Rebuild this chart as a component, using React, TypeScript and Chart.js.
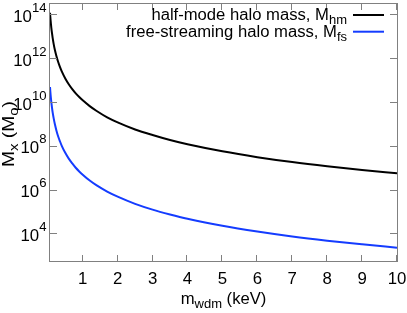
import React, { useEffect, useRef } from 'react';
import { Chart, registerables } from 'chart.js';

Chart.register(...registerables);

// WDM particle mass (keV)
const massKeV = [0.063, 0.07, 0.08, 0.09, 0.1, 0.12, 0.14, 0.17, 0.2, 0.25, 0.3, 0.35, 0.4, 0.5, 0.6, 0.7, 0.8, 0.9, 1, 1.2, 1.4, 1.7, 2, 2.5, 3, 3.5, 4, 5, 6, 7, 8, 9, 10];
// half-mode halo mass (Msun)
const halfModeMass = [1.18e14, 8.3e13, 5.3e13, 3.6e13, 2.5e13, 1.38e13, 8.3e12, 4.3e12, 2.5e12, 1.2e12, 6.5e11, 3.9e11, 2.5e11, 1.19e11, 6.5e10, 3.9e10, 2.5e10, 1.69e10, 1.19e10, 6.5e9, 3.9e9, 2.0e9, 1.18e9, 5.6e8, 3.1e8, 1.83e8, 1.17e8, 5.6e7, 3.05e7, 1.82e7, 1.17e7, 7.9e6, 5.6e6];
// free-streaming halo mass (Msun)
const freeStreamingMass = [4.8e10, 3.4e10, 2.15e10, 1.46e10, 1.02e10, 5.6e9, 3.3e9, 1.75e9, 1.02e9, 4.8e8, 2.6e8, 1.58e8, 1.0e8, 4.8e7, 2.6e7, 1.57e7, 1.0e7, 6.8e6, 4.8e6, 2.6e6, 1.56e6, 8.2e5, 4.8e5, 2.26e5, 1.23e5, 7.4e4, 4.7e4, 2.25e4, 1.23e4, 7.3e3, 4.7e3, 3.2e3, 2.24e3];

const xTickValues = [1, 2, 3, 4, 5, 6, 7, 8, 9, 10];
const yTickExponents = [4, 6, 8, 10, 12, 14];
const xMin = 0.063;
const xMax = 10;
const yMin = 500;
const yMax = 3.3e14;

const FONT = '"Liberation Sans", Arial, Helvetica, sans-serif';
const FS = 16;
const SMALL = 12.5;
const BLUE = 'rgb(20, 60, 255)';
const GREY = 'rgb(128,128,128)';

type Part = { t: string; k?: 'sub' | 'sup' };

function partWidth(ctx: CanvasRenderingContext2D, p: Part) {
  ctx.font = `${p.k ? SMALL : FS}px ${FONT}`;
  return ctx.measureText(p.t).width;
}

function drawParts(
  ctx: CanvasRenderingContext2D,
  parts: Part[],
  x: number,
  y: number,
  align: 'left' | 'right' | 'center',
  sx = 1
) {
  const w = parts.reduce((s, p) => s + partWidth(ctx, p), 0) * sx;
  const startX = align === 'right' ? x - w : align === 'center' ? x - w / 2 : x;
  ctx.save();
  ctx.translate(startX, y);
  ctx.scale(sx, 1);
  ctx.textBaseline = 'alphabetic';
  ctx.textAlign = 'left';
  let cx = 0;
  for (const p of parts) {
    ctx.font = `${p.k ? SMALL : FS}px ${FONT}`;
    const dy = p.k === 'sub' ? 4 : p.k === 'sup' ? -10 : 0;
    ctx.fillText(p.t, cx, dy);
    cx += ctx.measureText(p.t).width;
  }
  ctx.restore();
}

const decorPlugin = {
  id: 'decor',
  afterDraw(chart: any) {
    const ctx: CanvasRenderingContext2D = chart.ctx;
    const { left, right, top, bottom } = chart.chartArea;
    const xs = chart.scales.x;
    const ys = chart.scales.y;
    ctx.save();
    // border
    ctx.strokeStyle = GREY;
    ctx.lineWidth = 1;
    ctx.strokeRect(left - 0.5, top + 0.5, right - left + 1, bottom - top - 1);
    // ticks
    ctx.beginPath();
    const tl = 7;
    for (const v of xTickValues) {
      const px = Math.round(xs.getPixelForValue(v)) - 0.5;
      ctx.moveTo(px, bottom);
      ctx.lineTo(px, bottom - tl);
      ctx.moveTo(px, top);
      ctx.lineTo(px, top + tl);
    }
    for (const e of yTickExponents) {
      const py = Math.round(ys.getPixelForValue(Math.pow(10, e))) + 0.5;
      ctx.moveTo(left, py);
      ctx.lineTo(left + tl, py);
      ctx.moveTo(right, py);
      ctx.lineTo(right - tl, py);
    }
    ctx.stroke();

    ctx.fillStyle = '#000';
    // x tick labels
    for (const v of xTickValues) {
      drawParts(ctx, [{ t: String(v) }], xs.getPixelForValue(v), 284, 'center', 1.05);
    }
    // y tick labels
    for (const e of yTickExponents) {
      const py = ys.getPixelForValue(Math.pow(10, e));
      drawParts(ctx, [{ t: '10' }, { t: String(e), k: 'sup' }], 46.5, py + 7.5, 'right', 1.05);
    }
    // x title
    drawParts(ctx, [{ t: 'm' }, { t: 'wdm', k: 'sub' }, { t: ' (keV)' }], (left + right) / 2, 304, 'center', 1.04);
    // y title
    ctx.save();
    ctx.translate(14, 134);
    ctx.rotate(-Math.PI / 2);
    drawParts(ctx, [{ t: 'M' }, { t: 'x', k: 'sub' }, { t: ' (M' }, { t: 'o', k: 'sub' }, { t: ')' }], 0, 0, 'center', 1.2);
    ctx.restore();
    // legend
    const entries: { parts: Part[]; color: string; y: number }[] = [
      { parts: [{ t: 'half-mode halo mass, M' }, { t: 'hm', k: 'sub' }], color: '#000', y: 20 },
      { parts: [{ t: 'free-streaming halo mass, M' }, { t: 'fs', k: 'sub' }], color: BLUE, y: 36.7 },
    ];
    for (const en of entries) {
      ctx.fillStyle = '#000';
      drawParts(ctx, en.parts, 347, en.y, 'right', 1.04);
      ctx.strokeStyle = en.color;
      ctx.lineWidth = 2;
      ctx.beginPath();
      ctx.moveTo(353, en.y - 5);
      ctx.lineTo(384, en.y - 5);
      ctx.stroke();
    }
    ctx.restore();
  },
};

export default function App() {
  const ref = useRef<HTMLCanvasElement>(null);
  useEffect(() => {
    document.body.style.margin = '0';
    const canvas = ref.current!;
    const chart = new Chart(canvas, {
      type: 'line',
      data: {
        datasets: [
          {
            label: 'half-mode halo mass',
            data: massKeV.map((m, i) => ({ x: m, y: halfModeMass[i] })),
            borderColor: '#000',
            borderWidth: 2,
            pointRadius: 0,
            cubicInterpolationMode: 'monotone',
          },
          {
            label: 'free-streaming halo mass',
            data: massKeV.map((m, i) => ({ x: m, y: freeStreamingMass[i] })),
            borderColor: BLUE,
            borderWidth: 2,
            pointRadius: 0,
            cubicInterpolationMode: 'monotone',
          },
        ],
      },
      options: {
        responsive: false,
        animation: false,
        devicePixelRatio: 1,
        layout: { padding: { left: 50, right: 10, top: 3, bottom: 51 } },
        plugins: { legend: { display: false }, tooltip: { enabled: false } },
        scales: {
          x: { type: 'linear', min: xMin, max: xMax, display: false },
          y: { type: 'logarithmic', min: yMin, max: yMax, display: false },
        },
      },
      plugins: [decorPlugin],
    });
    return () => chart.destroy();
  }, []);
  return (
    <div style={{ position: 'absolute', left: 0, top: 0, width: 407, height: 313, background: '#fff' }}>
      <canvas ref={ref} width={407} height={313} style={{ display: 'block' }} />
    </div>
  );
}
